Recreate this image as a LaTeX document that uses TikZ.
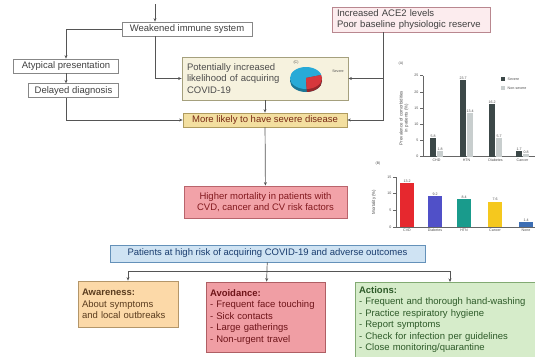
\documentclass[tikz,border=0pt]{standalone}
\usepackage{fontspec}
\setmainfont{Liberation Sans}
\usetikzlibrary{
    arrows.meta,
    calc,
    positioning
}
\definecolor{linegray}{RGB}{85,85,85}
\definecolor{boxgray}{RGB}{135,135,135}
\definecolor{riskfill}{RGB}{246,242,222}
\definecolor{riskdraw}{RGB}{165,160,125}
\definecolor{acefill}{RGB}{252,236,238}
\definecolor{acedraw}{RGB}{185,135,143}
\definecolor{severefill}{RGB}{243,223,160}
\definecolor{severedraw}{RGB}{175,155,95}
\definecolor{severetext}{RGB}{120,40,20}
\definecolor{mortfill}{RGB}{242,162,168}
\definecolor{mortdraw}{RGB}{185,100,108}
\definecolor{morttext}{RGB}{130,25,30}
\definecolor{patientfill}{RGB}{207,227,243}
\definecolor{patientdraw}{RGB}{100,145,185}
\definecolor{patienttext}{RGB}{25,60,110}
\definecolor{awarefill}{RGB}{252,217,168}
\definecolor{awaredraw}{RGB}{180,150,105}
\definecolor{awaretext}{RGB}{90,60,30}
\definecolor{avoidfill}{RGB}{240,158,164}
\definecolor{avoiddraw}{RGB}{175,95,100}
\definecolor{avoidtext}{RGB}{110,20,25}
\definecolor{actionfill}{RGB}{214,236,202}
\definecolor{actiondraw}{RGB}{130,170,115}
\definecolor{actiontext}{RGB}{45,90,40}
\definecolor{severebar}{RGB}{60,72,72}
\definecolor{mildbar}{RGB}{200,206,206}
\definecolor{cvdbar}{RGB}{230,40,46}
\definecolor{dmbar}{RGB}{80,80,200}
\definecolor{htnbar}{RGB}{25,155,140}
\definecolor{cancerbar}{RGB}{245,200,30}
\definecolor{nonebar}{RGB}{60,110,180}
\definecolor{pieblue}{RGB}{40,170,215}
\definecolor{piered}{RGB}{215,55,60}
\tikzset{
    % Box styles
    base box/.style={
        rectangle,
        line width=0.8pt,
        inner xsep=5pt,
        inner ysep=2pt,
        minimum height=14pt
    },
    plain box/.style={
        base box,
        draw=boxgray,
        fill=white,
        text=black!75
    },
    risk box/.style={
        base box,
        draw=riskdraw,
        fill=riskfill,
        text=black!70,
        align=left
    },
    ace box/.style={
        base box,
        draw=acedraw,
        fill=acefill,
        text=black!75,
        align=left
    },
    severe box/.style={
        base box,
        draw=severedraw,
        fill=severefill,
        text=severetext
    },
    mortality box/.style={
        base box,
        draw=mortdraw,
        fill=mortfill,
        text=morttext,
        align=center
    },
    patient box/.style={
        base box,
        draw=patientdraw,
        fill=patientfill,
        text=patienttext
    },
    awareness box/.style={
        base box,
        draw=awaredraw,
        fill=awarefill,
        text=awaretext,
        inner xsep=4pt,
        align=left
    },
    avoidance box/.style={
        base box,
        draw=avoiddraw,
        fill=avoidfill,
        text=avoidtext,
        inner xsep=4pt,
        align=left
    },
    action box/.style={
        base box,
        draw=actiondraw,
        fill=actionfill,
        text=actiontext,
        inner xsep=4pt,
        inner ysep=4pt,
        align=left
    },
    % Arrow styles
    flow arrow/.style={
        ->,
        >={Stealth[length=3.5pt,width=3pt]},
        line width=0.7pt,
        linegray
    },
    % Chart styles
    chart text/.style={
        font=\fontsize{3.6}{4.2}\selectfont,
        text=black!70,
        inner sep=0.5pt
    },
    axis line/.style={
        line width=0.5pt,
        black!60
    }
}

\begin{document}
\begin{tikzpicture}[x=1pt, y=-1pt, font=\fontsize{9.5}{11.5}\selectfont]
    \useasboundingbox (0,0) rectangle (535,356);
    \clip (0,0) rectangle (535,356);

    % upper flow
    \coordinate (entry) at (155,4);
    \node[plain box, minimum width=130pt] (weak) at (187,29) {Weakened immune system};
    \node[plain box, minimum width=105pt] (atypical) at (66,66) {Atypical presentation};
    \node[plain box, minimum width=90pt, below=10pt of atypical.south east, anchor=north east] (delayed) {Delayed diagnosis};
    \node[risk box, text width=156pt, minimum height=43pt] (likely) at (265,78.5)
        {Potentially increased\\likelihood of acquiring\\COVID-19};
    \node[ace box, text width=148pt, minimum height=25pt] (ace) at (411,19.5)
        {Increased ACE2 levels\\Poor baseline physiologic reserve};
    \node[severe box, minimum width=164pt] (severe) at (265,120) {More likely to have severe disease};
    \node[mortality box, minimum width=163pt, minimum height=32pt] (mortality) at (265.5,202)
        {Higher mortality in patients with\\CVD, cancer and CV risk factors};

    % pie inside the likelihood box
    \coordinate (pie) at (306,78);
    \fill[pieblue!70!black] ($(pie)+(0,3)$) ellipse (16 and 11);
    \fill[pieblue] (pie) ellipse (16 and 11);
    \begin{scope}
        \clip (pie) -- ++(30,-6) -- ++(0,40) -- ++(-28,0) -- cycle;
        \fill[piered!70!black] ($(pie)+(0,3)$) ellipse (16 and 11);
        \fill[piered] (pie) ellipse (16 and 11);
    \end{scope}
    \node[chart text] (pie tag) at (296,63) {(C)};
    \node[chart text] (pie key) at (338,71) {Severe};

    \draw[flow arrow] (entry) -- (entry |- weak.north);
    \draw[flow arrow] (weak.west) -| (atypical.north);
    \draw[flow arrow] (atypical.south) -- (atypical.south |- delayed.north);
    \draw[flow arrow] (weak.south -| entry) |- (likely.west);
    \coordinate (ace link) at ($(ace.south)+(-28,0)$);
    \draw[flow arrow] (ace link) |- (likely.east);
    \draw[flow arrow] (ace link) |- (severe.east);
    \draw[flow arrow] (delayed.south -| atypical.south) |- (severe.west);
    \draw[flow arrow] (likely) -- (severe);
    \draw[flow arrow] (severe) -- (mortality);

    % chart (A): comorbidities, severe vs non-severe
    \node[chart text] (tag a) at (401,64) {(A)};
    \draw[axis line] (423,75.7) -- (423,156.7) -- (535,156.7);
    \foreach \v in {0,5,...,25} {
        \draw[axis line] (420,156.7-\v*3.24) -- (423,156.7-\v*3.24);
        \node[chart text, anchor=east] at (419,156.7-\v*3.24) {\v};
    }
    \foreach \x/\cat/\s/\n in {430/CHD/5.8/1.8, 460/HTN/23.7/13.4, 489/Diabetes/16.2/5.7, 516/Cancer/1.7/0.8} {
        \fill[severebar] (\x,156.7) rectangle (\x+6,156.7-\s*3.24);
        \fill[mildbar] (\x+7,156.7) rectangle (\x+13,156.7-\n*3.24);
        \node[chart text, anchor=south] at (\x+3,156.7-\s*3.24) {\s};
        \node[chart text, anchor=south] at (\x+10,156.7-\n*3.24) {\n};
        \node[chart text, anchor=north] at (\x+6.5,158.5) {\cat};
    }
    \node[chart text, font=\fontsize{4.4}{5.2}\selectfont, rotate=90, align=center] (title a) at (404,118)
        {Prevalence of comorbidities\\in patients (\%)};
    \fill[severebar] (501,77) rectangle (505,81);
    \node[chart text, anchor=west] (key severe) at (507,79) {Severe};
    \fill[mildbar] (501,86) rectangle (505,90);
    \node[chart text, anchor=west] (key mild) at (507,88) {Non-severe};

    % chart (B): mortality
    \node[chart text] (tag b) at (378,164) {(B)};
    \draw[axis line] (396,177) -- (396,227) -- (535,227);
    \foreach \v in {0,5,10,15} {
        \draw[axis line] (393,227-\v*3.33) -- (396,227-\v*3.33);
        \node[chart text, anchor=east] at (392,227-\v*3.33) {\v};
    }
    \foreach \x/\cat/\m/\c in {400/CVD/13.2/cvdbar, 428/Diabetes/9.2/dmbar, 457/HTN/8.4/htnbar, 488/Cancer/7.6/cancerbar, 519/None/1.4/nonebar} {
        \fill[\c] (\x,227) rectangle (\x+14,227-\m*3.33);
        \node[chart text, anchor=south] at (\x+7,227-\m*3.33) {\m};
        \node[chart text, anchor=north] at (\x+7,228.5) {\cat};
    }
    \node[chart text, font=\fontsize{4.4}{5.2}\selectfont, rotate=90] (title b) at (374,202) {Mortality (\%)};

    % lower flow
    \node[patient box, minimum width=315pt, minimum height=17pt] (patients) at (267.5,253.5)
        {Patients at high risk of acquiring COVID-19 and adverse outcomes};
    \node[awareness box, text width=92pt, minimum height=46pt] (awareness) at (128,304)
        {\textbf{Awareness:}\\About symptoms\\and local outbreaks};
    \node[avoidance box, text width=111pt, minimum height=70pt] (avoidance) at (265.5,317)
        {\textbf{Avoidance:}\\- Frequent face touching\\- Sick contacts\\- Large gatherings\\- Non-urgent travel};
    % box runs past the lower edge, as in the figure
    \node[action box, text width=182pt, anchor=north] (actions) at (450,282)
        {\textbf{Actions:}\\- Frequent and thorough hand-washing\\- Practice respiratory hygiene\\- Report symptoms\\- Check for infection per guidelines\\- Close monitoring/quarantine\\ \mbox{}};

    \coordinate (split) at ($(patients.south)+(0,9)$);
    \draw[flow arrow] (patients) -- (avoidance);
    \draw[flow arrow] (split) -| (awareness.north);
    \draw[flow arrow] (split) -| (actions.north);
\end{tikzpicture}
\end{document}
